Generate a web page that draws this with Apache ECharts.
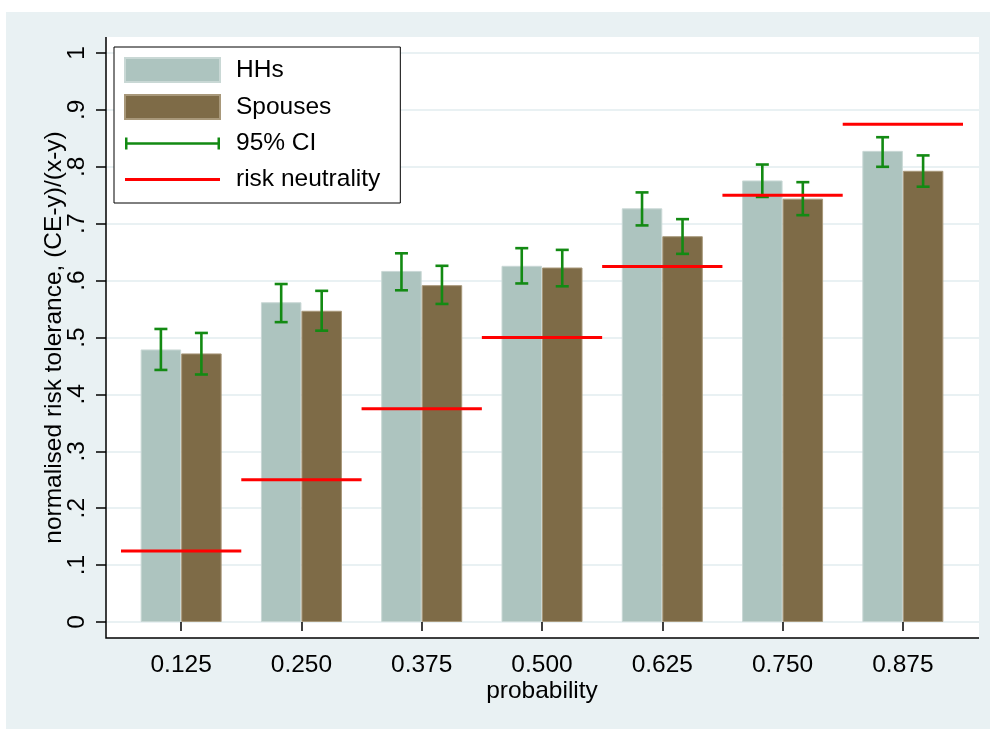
<!DOCTYPE html>
<html>
<head>
<meta charset="utf-8">
<script src="https://cdn.jsdelivr.net/npm/echarts@6/dist/echarts.min.js"></script>
<style>
  html, body { margin: 0; padding: 0; background: #fff; }
  #chart { width: 990px; height: 729px; }
</style>
</head>
<body>
<div id="chart"></div>
<script>
// probability categories
const categories = ['0.125', '0.250', '0.375', '0.500', '0.625', '0.750', '0.875'];
// mean normalised risk tolerance
const hhs = [0.479, 0.562, 0.617, 0.626, 0.727, 0.776, 0.828];
const spouses = [0.472, 0.547, 0.592, 0.623, 0.678, 0.744, 0.793];
// 95% confidence intervals
const hhsLow = [0.443, 0.527, 0.583, 0.595, 0.697, 0.747, 0.800];
const hhsHigh = [0.515, 0.594, 0.648, 0.657, 0.755, 0.804, 0.852];
const spLow = [0.435, 0.512, 0.559, 0.590, 0.647, 0.715, 0.765];
const spHigh = [0.508, 0.582, 0.626, 0.654, 0.708, 0.773, 0.820];
// risk neutral benchmark
const neutral = [0.125, 0.25, 0.375, 0.5, 0.625, 0.75, 0.875];

const FONT = 'Liberation Sans, Arial, Helvetica, sans-serif';
const FS = 24.5;
const BG = '#e9f1f3';
const BAR_W = 40.5;
const GREEN = '#138a13';

const chart = echarts.init(document.getElementById('chart'));

// I-beam error bar, shifted to the centre of the left / right bar
function ciRender(side) {
  return function (params, api) {
    const i = api.value(0);
    const lo = api.coord([i, api.value(1)]);
    const hi = api.coord([i, api.value(2)]);
    const x = lo[0] + side * BAR_W / 2;
    const cap = 6.5;
    const style = { stroke: api.visual('color'), lineWidth: 2.6 };
    return {
      type: 'group',
      children: [
        { type: 'line', shape: { x1: x, y1: lo[1], x2: x, y2: hi[1] }, style },
        { type: 'line', shape: { x1: x - cap, y1: lo[1], x2: x + cap, y2: lo[1] }, style },
        { type: 'line', shape: { x1: x - cap, y1: hi[1], x2: x + cap, y2: hi[1] }, style }
      ]
    };
  };
}

// red horizontal line spanning the whole category band
function neutralRender(params, api) {
  const p = api.coord([api.value(0), api.value(1)]);
  const half = api.size([1, 0])[0] / 2;
  return {
    type: 'line',
    shape: { x1: p[0] - half, y1: p[1], x2: p[0] + half, y2: p[1] },
    style: { stroke: api.visual('color'), lineWidth: 3 }
  };
}

const option = {
  animation: false,
  textStyle: { fontFamily: FONT },
  graphic: [
    { type: 'rect', z: -20, silent: true, shape: { x: 6, y: 12, width: 984, height: 717 }, style: { fill: BG } },
    { type: 'rect', z: -19, silent: true, shape: { x: 106, y: 37, width: 873, height: 601 }, style: { fill: '#fff' } },
    { type: 'polyline', z: 50, silent: true, shape: { points: [[106, 37], [106, 638], [979, 638]] }, style: { stroke: '#000', lineWidth: 1.5, fill: null } }
  ],
  legend: {
    orient: 'vertical',
    left: 114,
    top: 47,
    padding: [10, 20, 11, 10],
    itemWidth: 95,
    itemHeight: 24,
    itemGap: 11,
    backgroundColor: '#fff',
    borderColor: '#000',
    borderWidth: 1,
    borderRadius: 0,
    textStyle: { fontSize: FS, color: '#000', fontFamily: FONT, padding: [0, 0, 0, 11] },
    data: [
      { name: 'HHs', icon: 'rect' },
      { name: 'Spouses', icon: 'rect' },
      { name: '95% CI', icon: 'path://M0,0h2.5v12h-2.5z M0,4.8h95v2.5h-95z M92.5,0h2.5v12h-2.5z' },
      { name: 'risk neutrality', icon: 'path://M0,0h95v3h-95z' }
    ]
  },
  grid: [
    { left: 121, right: 27, top: 53, bottom: 107 },
    { left: 106, right: 11, top: 53, bottom: 107 }
  ],
  xAxis: [
    {
      type: 'category',
      gridIndex: 0,
      data: categories,
      offset: 16,
      axisLine: { show: false },
      axisTick: { show: true, alignWithLabel: true, length: 9, lineStyle: { color: '#000', width: 1.5 } },
      axisLabel: { fontSize: FS, color: '#000', margin: 15, fontFamily: FONT },
      name: 'probability',
      nameLocation: 'middle',
      nameGap: 41,
      nameMoveOverlap: false,
      nameTextStyle: { fontSize: FS, color: '#000', fontFamily: FONT }
    },
    { type: 'value', gridIndex: 1, show: false, min: 0, max: 1 }
  ],
  yAxis: [
    {
      type: 'value',
      gridIndex: 0,
      min: 0,
      max: 1,
      interval: 0.1,
      offset: 15,
      axisLine: { show: false },
      axisTick: { show: true, length: 10, lineStyle: { color: '#000', width: 1.5 } },
      splitLine: { show: false },
      axisLabel: {
        rotate: 90,
        fontSize: FS,
        color: '#000',
        margin: 16,
        fontFamily: FONT,
        formatter: v => (v === 0 ? '0' : v === 1 ? '1' : v.toFixed(1).replace('0.', '.'))
      },
      name: 'normalised risk tolerance, (CE-y)/(x-y)',
      nameLocation: 'middle',
      nameRotate: 90,
      nameGap: 39,
      nameMoveOverlap: false,
      nameTextStyle: { fontSize: FS, color: '#000', fontFamily: FONT }
    },
    {
      type: 'value',
      gridIndex: 1,
      min: 0,
      max: 1,
      interval: 0.1,
      axisLine: { show: false },
      axisTick: { show: false },
      axisLabel: { show: false },
      splitLine: { show: true, lineStyle: { color: BG, width: 2 } }
    }
  ],
  series: [
    {
      name: 'HHs',
      type: 'bar',
      data: hhs,
      barWidth: BAR_W,
      barGap: '0%',
      itemStyle: { color: '#adc4bf', borderColor: '#c9d8d5', borderWidth: 1 }
    },
    {
      name: 'Spouses',
      type: 'bar',
      data: spouses,
      barWidth: BAR_W,
      barGap: '0%',
      itemStyle: { color: '#7e6b47', borderColor: '#a8987a', borderWidth: 1 }
    },
    {
      name: '95% CI',
      type: 'custom',
      renderItem: ciRender(-1),
      itemStyle: { color: GREEN },
      data: categories.map((c, i) => [i, hhsLow[i], hhsHigh[i]]),
      z: 3
    },
    {
      name: '95% CI',
      type: 'custom',
      renderItem: ciRender(1),
      itemStyle: { color: GREEN },
      data: categories.map((c, i) => [i, spLow[i], spHigh[i]]),
      z: 3
    },
    {
      name: 'risk neutrality',
      type: 'custom',
      renderItem: neutralRender,
      itemStyle: { color: '#ff0000' },
      data: categories.map((c, i) => [i, neutral[i]]),
      z: 4
    }
  ]
};

chart.setOption(option);
</script>
</body>
</html>
